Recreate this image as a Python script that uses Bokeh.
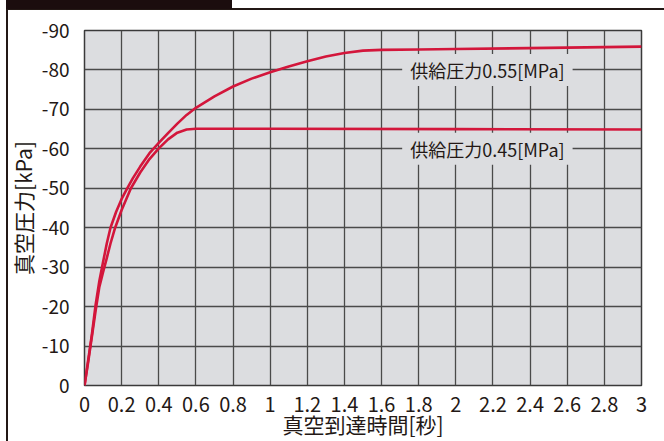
from bokeh.plotting import figure
from bokeh.models import Range1d, Label, FixedTicker
from bokeh.embed import file_html
from bokeh.resources import INLINE

# ---- data ----
t_055 = [0, 0.02, 0.04, 0.06, 0.08, 0.10, 0.12, 0.14, 0.17, 0.20, 0.23, 0.26, 0.30, 0.35,
         0.40, 0.45, 0.50, 0.55, 0.60, 0.70, 0.80, 0.90, 1.00, 1.10, 1.20, 1.30, 1.40,
         1.50, 1.60, 1.80, 2.00, 2.50, 3.00]
p_055 = [0, -6.5, -13, -20.5, -26.5, -31.3, -36, -40, -44, -47.3, -50, -52.5, -55.5, -58.9,
         -61.5, -64, -66.4, -68.6, -70.4, -73.3, -75.8, -77.8, -79.4, -80.9, -82.2, -83.4, -84.3,
         -84.9, -85.1, -85.2, -85.3, -85.6, -85.9]

t_045 = [0, 0.02, 0.04, 0.06, 0.08, 0.10, 0.12, 0.14, 0.165, 0.20, 0.25, 0.30, 0.35,
         0.40, 0.45, 0.50, 0.55, 0.60, 1.00, 2.00, 3.00]
p_045 = [0, -6, -12.5, -19, -25, -28.7, -32.3, -36, -40, -44.5, -50, -54, -57.4,
         -60.1, -62.4, -64.1, -64.9, -65.1, -65.1, -65.0, -64.9]

series_labels = ["供給圧力0.55[MPa]", "供給圧力0.45[MPa]"]
series_label_x = [2.17, 2.17]
series_label_y = [-80, -60]

x_ticks = [0, 0.2, 0.4, 0.6, 0.8, 1, 1.2, 1.4, 1.6, 1.8, 2, 2.2, 2.4, 2.6, 2.8, 3]
x_tick_labels = ["0", "0.2", "0.4", "0.6", "0.8", "1", "1.2", "1.4", "1.6", "1.8",
                 "2", "2.2", "2.4", "2.6", "2.8", "3"]
y_ticks = [0, -10, -20, -30, -40, -50, -60, -70, -80, -90]
y_tick_labels = ["0", "-10", "-20", "-30", "-40", "-50", "-60", "-70", "-80", "-90"]

x_title = "真空到達時間[秒]"
y_title = "真空圧力[kPa]"

FONT = "Noto Sans CJK JP"
TEXT = "#231815"
RED = "#d3163b"
BG = "#dcdde0"
GRID = "#4a4a4a"

p = figure(width=664, height=441, output_backend="svg", toolbar_location=None,
           x_range=Range1d(0, 3), y_range=Range1d(0, -90),
           min_border_left=84, min_border_right=23, min_border_top=30, min_border_bottom=55,
           background_fill_color=BG, border_fill_color=None,
           outline_line_color="#3a3a3a", outline_line_width=1.5)

# page frame (left/top rule) and dark header tab, drawn behind the transparent canvas border
p.styles = {
    "background": (
        "linear-gradient(#1b0d0e,#1b0d0e) 6px 0px / 226px 9px no-repeat, "
        "linear-gradient(#231815,#231815) 6px 8px / 658px 2px no-repeat, "
        "linear-gradient(#231815,#231815) 6px 8px / 2px 433px no-repeat, "
        "#ffffff"
    )
}

for ax in (p.xaxis[0], p.yaxis[0]):
    ax.axis_line_color = None
    ax.major_tick_line_color = None
    ax.minor_tick_line_color = None
    ax.major_label_text_font = FONT
    ax.major_label_text_color = TEXT
    ax.axis_label_text_font = FONT
    ax.axis_label_text_font_size = "21px"
    ax.axis_label_text_font_style = "normal"
    ax.axis_label_text_color = TEXT

p.xaxis.ticker = FixedTicker(ticks=x_ticks)
p.xaxis.major_label_overrides = dict(zip(x_ticks, x_tick_labels))
p.xaxis.major_label_text_font_size = "20px"
p.xaxis.major_label_standoff = 5
p.xaxis.axis_label = x_title
p.xaxis.axis_label_standoff = -6

p.yaxis.ticker = FixedTicker(ticks=y_ticks)
p.yaxis.major_label_overrides = dict(zip(y_ticks, y_tick_labels))
p.yaxis.major_label_text_font_size = "19px"
p.yaxis.major_label_standoff = 9
p.yaxis.axis_label = y_title
p.yaxis.axis_label_standoff = 1

p.xgrid.ticker = FixedTicker(ticks=x_ticks)
p.ygrid.ticker = FixedTicker(ticks=y_ticks)
for g in (p.xgrid[0], p.ygrid[0]):
    g.grid_line_color = GRID
    g.grid_line_width = 1.3

p.line(t_055, p_055, line_color=RED, line_width=2.6)
p.line(t_045, p_045, line_color=RED, line_width=2.6)

for txt, lx, ly in zip(series_labels, series_label_x, series_label_y):
    p.add_layout(Label(x=lx, y=ly, text=txt, text_align="center", text_baseline="middle",
                       text_font=FONT, text_font_size="18px", text_color=TEXT,
                       background_fill_color=BG, background_fill_alpha=1.0,
                       padding=dict(x=8, y=3)))

open("out.html", "w").write(file_html(p, INLINE))
